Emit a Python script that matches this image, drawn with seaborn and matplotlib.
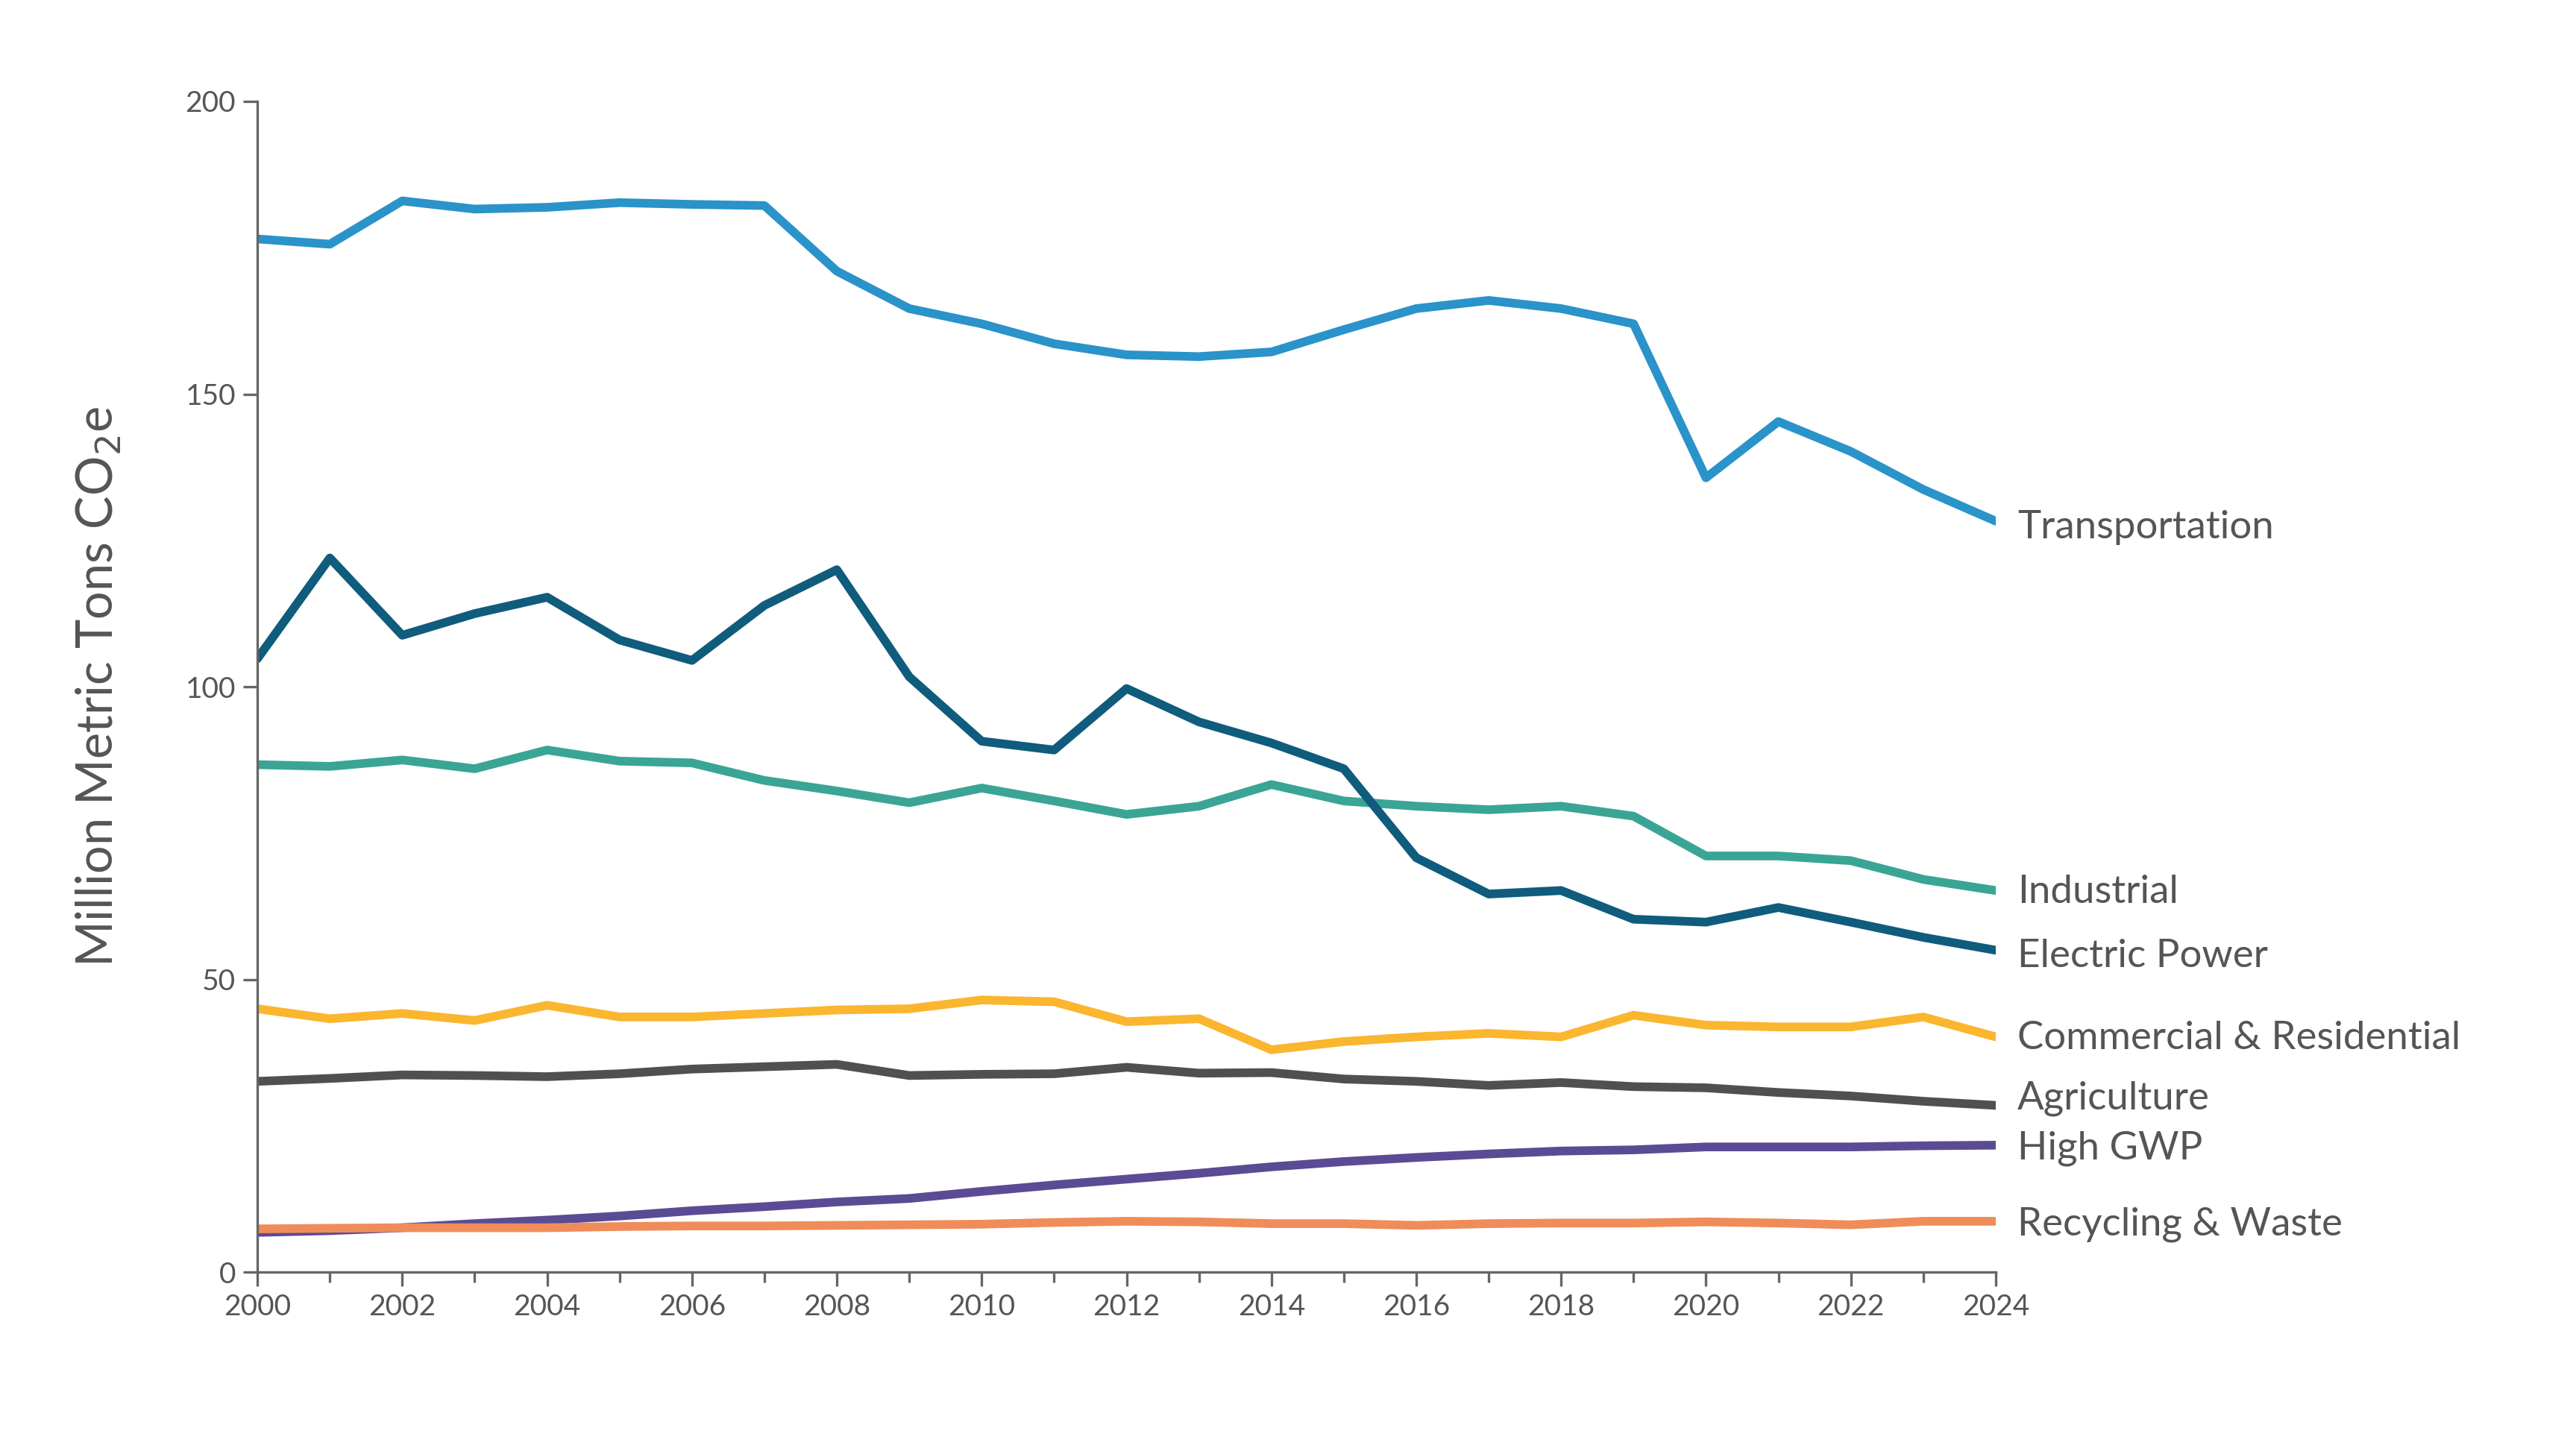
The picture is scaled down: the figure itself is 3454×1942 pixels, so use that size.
import matplotlib
matplotlib.use("Agg")
import matplotlib.pyplot as plt
import seaborn as sns
import pandas as pd
import numpy as np

years = list(range(2000, 2025))
transportation = [176.5,175.6,183,181.6,181.9,182.7,182.4,182.2,171,164.6,162,158.6,156.7,156.4,157.2,161,164.6,166,164.6,162,135.7,145.3,140.2,133.7,128.3]
electric = [104.8,122,108.8,112.5,115.3,108,104.5,113.9,120,101.7,90.7,89.2,99.7,94,90.4,86,70.8,64.6,65.2,60.3,59.8,62.3,59.8,57.2,55]
industrial = [86.7,86.4,87.5,86,89.2,87.3,87,84,82.2,80.2,82.7,80.5,78.2,79.6,83.3,80.5,79.6,79,79.6,77.9,71.1,71.1,70.3,67.1,65.2]
commercial = [45,43.3,44.2,43,45.6,43.6,43.6,44.2,44.8,45,46.5,46.2,42.8,43.3,38,39.4,40.2,40.8,40.2,43.9,42.2,41.9,41.9,43.6,40.2]
agriculture = [32.6,33.1,33.7,33.6,33.4,33.9,34.7,35.1,35.5,33.6,33.8,33.9,35,34,34.1,33,32.6,31.9,32.4,31.7,31.5,30.7,30.1,29.2,28.5]
high_gwp = [6.8,7.1,7.6,8.3,8.9,9.6,10.5,11.2,12,12.6,13.8,14.9,15.9,16.9,18,18.9,19.6,20.2,20.7,20.9,21.4,21.4,21.4,21.6,21.7]
recycling = [7.4,7.5,7.6,7.6,7.6,7.8,7.9,7.9,8,8.1,8.2,8.5,8.7,8.6,8.3,8.3,8,8.3,8.4,8.4,8.6,8.4,8.1,8.7,8.7]

names = ["Transportation","Industrial","Electric Power","Commercial & Residential","Agriculture","High GWP","Recycling & Waste"]
series = [transportation, industrial, electric, commercial, agriculture, high_gwp, recycling]
colors = ["#2a93c9","#3aa594","#0f5c7d","#fbb62f","#505050","#5b4b94","#f08c5a"]
label_y = [127.2, 64.9, 54.0, 40.0, 29.7, 21.2, 8.2]

df = pd.concat([pd.DataFrame({"Year": years, "Value": s, "Sector": n}) for n, s in zip(names, series)])

sns.set_theme(style="white")
plt.rcParams['font.family'] = ['Lato', 'DejaVu Sans']
txt = "#555555"

fig = plt.figure(figsize=(17.275, 9.71), dpi=200)
ax = fig.add_axes([0.0999, 0.1214, 0.6746, 0.8086])
sns.lineplot(data=df, x="Year", y="Value", hue="Sector", palette=dict(zip(names, colors)),
             linewidth=4.2, legend=False, ax=ax, solid_capstyle="round")
ax.set_xlim(2000, 2024)
ax.set_ylim(0, 200)
ax.set_xticks(range(2000, 2025, 2))
ax.set_xticks(range(2000, 2025), minor=True)
ax.set_yticks([0, 50, 100, 150, 200])
for s in ["top", "right"]:
    ax.spines[s].set_visible(False)
for s in ["left", "bottom"]:
    ax.spines[s].set_color("#666666")
    ax.spines[s].set_linewidth(1.2)
ax.tick_params(axis="both", which="both", direction="out", length=7, width=1.2, color="#666666",
               labelsize=14, labelcolor=txt, bottom=True, left=True)
ax.tick_params(axis="x", which="minor", length=5)
ax.set_xlabel("")
ax.set_ylabel("Million Metric Tons CO$_2$e", fontsize=24, color=txt, labelpad=30)

for n, c, y in zip(names, colors, label_y):
    ax.text(2024.3, y, n, fontsize=19, color=txt, va="center", ha="left", clip_on=False)

fig.savefig("out.png", dpi=200)
